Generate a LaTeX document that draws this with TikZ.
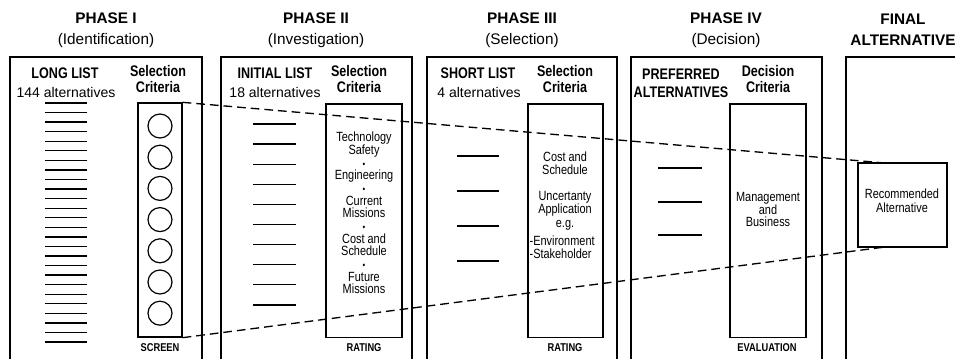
\documentclass[tikz,border=0pt]{standalone}
\usepackage{fontspec}
\setmainfont{Liberation Sans}
\newfontfamily\narrowsf[FakeStretch=0.82]{Liberation Sans}
\usetikzlibrary{positioning}

\newcommand{\critdot}{{\fontsize{7}{9.5}\selectfont •}}

\begin{document}
\begin{tikzpicture}[x=0.75pt, y=-0.75pt,
    heading/.style={align=center, font=\fontsize{11.5}{15.5}\selectfont},
    listhead/.style={align=center, font=\narrowsf\bfseries\fontsize{11.5}{13.5}\selectfont},
    count/.style={font=\fontsize{10.5}{12}\selectfont},
    crithead/.style={align=center, font=\narrowsf\bfseries\fontsize{11.5}{12}\selectfont},
    critbox/.style={draw, line width=1pt, inner sep=0pt},
    crittext/.style={align=center, font=\narrowsf\fontsize{10}{9.5}\selectfont},
    footlabel/.style={font=\narrowsf\bfseries\fontsize{8.5}{10}\selectfont},
    item/.style={line width=1pt},
    frame/.style={line width=1.1pt},
    screen/.style={dashed, line width=1pt, dash pattern=on 6.5pt off 3.75pt}]
    \useasboundingbox (0,0) rectangle (955,358);

    % phase frames
    \draw[frame] (10,360) |- (202,57) -- (202,360);
    \draw[frame] (221,360) |- (412,57) -- (412,360);
    \draw[frame] (427,360) |- (617,57) -- (617,360);
    \draw[frame] (631,360) |- (822,57) -- (822,360);
    \draw[frame] (846,360) |- (965,57);

    \node[heading] (h1) at (106,30) {\textbf{PHASE I}\\(Identification)};
    \node[heading] (h2) at (316,30) {\textbf{PHASE II}\\(Investigation)};
    \node[heading] (h3) at (522,30) {\textbf{PHASE III}\\(Selection)};
    \node[heading] (h4) at (726,30) {\textbf{PHASE IV}\\(Decision)};
    \node[heading] (h5) at (903,30) {\textbf{FINAL}\\\textbf{ALTERNATIVE}};

    % phase I
    \node[listhead] (long) at (65,73) {LONG LIST};
    \node[count] (n1) at (66,92) {144 alternatives};
    \node[crithead] (sel1) at (158,79) {Selection\\Criteria};
    \node[critbox, minimum width=33pt, minimum height=175.5pt] (crit1) at (160,220) {};
    \foreach \i in {0,...,6}
        \draw[line width=0.9pt] (160,{126+\i*31.2}) circle (9pt);
    \foreach \i in {0,...,25}
        \draw[item] (45,{103+\i*9.56}) -- (87,{103+\i*9.56});
    \node[footlabel] (f1) at (160,348) {SCREEN};

    % phase II
    \node[listhead] (initial) at (275,73) {INITIAL LIST};
    \node[count] (n2) at (275,92) {18 alternatives};
    \node[crithead] (sel2) at (359,79) {Selection\\Criteria};
    \node[critbox, minimum width=57pt, minimum height=175pt] (crit2) at (364,220.5) {};
    \foreach \i in {0,...,9}
        \draw[item] (253,{124+\i*20.1}) -- (296,{124+\i*20.1});
    \node[crittext] (t2) at (364,213) {Technology\\Safety\\\critdot\\Engineering\\\critdot\\Current\\Missions\\\critdot\\Cost and\\Schedule\\\critdot\\Future\\Missions};
    \node[footlabel] (f2) at (364,348) {RATING};

    % phase III
    \node[listhead] (short) at (478,73) {SHORT LIST};
    \node[count] (n3) at (479,92) {4 alternatives};
    \node[crithead] (sel3) at (565,79) {Selection\\Criteria};
    \node[critbox, minimum width=56.25pt, minimum height=175pt] (crit3) at (565.5,220.5) {};
    \foreach \y in {156,191,226,261}
        \draw[item] (457,\y) -- (499,\y);
    \node[crittext, font=\narrowsf\fontsize{10}{9.75}\selectfont] (t3a) at (565,163.5) {Cost and\\Schedule};
    \node[crittext, font=\narrowsf\fontsize{10}{10.1}\selectfont] (t3b) at (565,210.5) {Uncertanty\\Application\\e.g.};
    \node[crittext, align=left, anchor=west, inner sep=1pt, font=\narrowsf\fontsize{10}{9.75}\selectfont] (t3c) at (528,247.5) {-Environment\\-Stakeholder};
    \node[footlabel] (f3) at (565,348) {RATING};

    % phase IV
    \node[listhead] (pref) at (681,83) {PREFERRED\\ALTERNATIVES};
    \node[crithead] (dec4) at (768,79) {Decision\\Criteria};
    \node[critbox, minimum width=57pt, minimum height=175pt] (crit4) at (768,220.5) {};
    \foreach \y in {168,202,235}
        \draw[item] (658,\y) -- (702,\y);
    \node[crittext] (t4) at (768,209.5) {Management\\and\\Business};
    \node[footlabel] (f4) at (767,348) {EVALUATION};

    % final
    \node[critbox, minimum width=66.75pt, minimum height=63pt] (rec) at (902.5,205) {};
    \node[crittext, font=\narrowsf\fontsize{10}{10.5}\selectfont] (t5) at (902,201) {Recommended\\Alternative};
    \coordinate (recT) at (885,163);
    \coordinate (recB) at (885,247);

    \draw[screen] (crit1.north east) -- (recT);
    \draw[screen] (crit1.south east) -- (recB);
\end{tikzpicture}
\end{document}
